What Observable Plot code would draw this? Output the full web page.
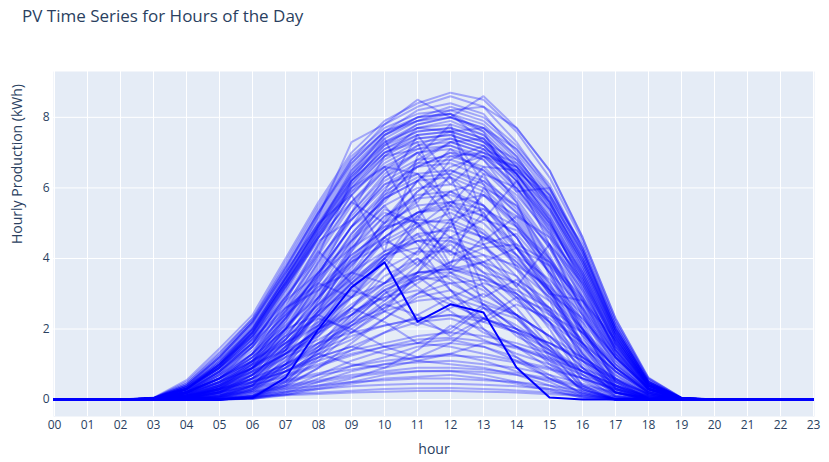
<!DOCTYPE html>
<html>
<head>
<meta charset="utf-8">
<script src="https://cdn.jsdelivr.net/npm/d3@7"></script>
<script src="https://cdn.jsdelivr.net/npm/@observablehq/plot@0.6"></script>
<style>
  html, body { margin: 0; padding: 0; background: #fff; }
  #wrap { position: relative; width: 829px; height: 462px; font-family: "Open Sans", sans-serif; }
  #title { position: absolute; left: 22px; top: 4px; font-size: 17px; color: #2a3f5f; white-space: nowrap; }
</style>
</head>
<body>
<div id="wrap"><div id="title">PV Time Series for Hours of the Day</div></div>
<script>
const hours = ["00","01","02","03","04","05","06","07","08","09","10","11","12","13","14","15","16","17","18","19","20","21","22","23"];
const yTicks = [0, 2, 4, 6, 8];

// Daily PV profiles (kWh per hour)
const dayProfiles = [
  [0,0,0,.05,.55,1.45,2.4,4.0,5.6,7.0,7.9,8.4,8.7,8.5,7.6,6.3,4.5,2.2,.6,.05,0,0,0,0],
  [0,0,0,.05,.45,1.3,2.3,3.8,5.4,6.8,7.8,8.3,8.6,8.3,7.3,6.0,4.3,2.1,.55,.04,0,0,0,0],
  [0,0,0,.04,.4,1.2,2.2,3.7,5.3,6.7,7.6,8.2,8.4,8.1,7.0,5.8,4.1,2.0,.5,.04,0,0,0,0],
  [0,0,0,.04,.35,1.1,2.1,3.6,5.2,6.6,7.5,8.0,8.1,7.8,6.9,5.6,3.9,1.9,.45,.03,0,0,0,0],
  [0,0,0,.03,.3,1.0,2.0,3.5,5.1,6.5,7.4,7.9,8.0,7.7,6.8,5.5,3.8,1.8,.4,.03,0,0,0,0],
  [0,0,0,.03,.3,1.0,1.9,3.4,5.0,6.4,7.3,7.7,7.8,7.5,6.6,5.4,3.7,1.7,.35,.03,0,0,0,0],
  [0,0,0,.03,.25,.9,1.8,3.3,4.9,6.3,7.2,7.6,7.7,7.4,6.5,5.3,3.6,1.6,.3,.02,0,0,0,0],
  [0,0,0,.02,.2,.8,1.7,3.2,4.8,6.2,7.1,7.5,7.6,7.3,6.4,5.2,3.5,1.5,.3,.02,0,0,0,0],
  [0,0,0,.02,.2,.8,1.6,3.1,4.7,6.1,7.0,7.4,7.5,7.2,6.3,5.0,3.4,1.4,.25,.02,0,0,0,0],
  [0,0,0,.03,.3,1.0,2.0,3.5,5.2,7.3,7.8,8.5,8.0,8.6,7.7,6.5,4.6,2.3,.6,.05,0,0,0,0],
  [0,0,0,0,.1,.5,1.3,2.8,4.4,5.8,6.8,7.3,7.4,7.1,6.2,4.9,3.1,1.2,.15,.01,0,0,0,0],
  [0,0,0,0,.05,.4,1.1,2.5,4.1,5.5,6.5,7.0,7.1,6.8,5.9,4.6,2.8,1.0,.1,0,0,0,0,0],
  [0,0,0,0,.03,.3,1.0,2.3,3.8,5.2,6.2,6.7,6.8,6.5,5.6,4.3,2.5,.8,.05,0,0,0,0,0],
  [0,0,0,0,0,.2,.8,2.0,3.5,4.9,5.9,6.4,6.5,6.2,5.3,4.0,2.2,.6,.02,0,0,0,0,0],
  [0,0,0,0,0,.1,.6,1.7,3.1,4.5,5.5,6.0,6.1,5.8,4.9,3.6,1.8,.4,0,0,0,0,0,0],
  [0,0,0,0,0,0,.3,1.2,2.5,3.8,4.8,5.3,5.4,5.0,4.1,2.8,1.1,.1,0,0,0,0,0,0],
  [0,0,0,0,0,0,.2,.9,2.1,3.3,4.2,4.7,4.8,4.4,3.5,2.2,.7,.05,0,0,0,0,0,0],
  [0,0,0,0,0,0,.1,.7,1.8,2.9,3.7,4.2,4.2,3.8,2.9,1.7,.4,0,0,0,0,0,0,0],
  [0,0,0,0,0,0,.05,.5,1.4,2.4,3.2,3.6,3.6,3.2,2.4,1.2,.2,0,0,0,0,0,0,0],
  [0,0,0,0,0,.05,.4,1.4,2.8,4.2,5.2,5.8,5.9,5.5,4.6,3.2,1.5,.3,0,0,0,0,0,0],
  [0,0,0,.04,.4,1.2,2.2,3.6,5.0,5.8,4.2,6.9,7.8,5.1,6.2,4.8,3.0,1.5,.4,.03,0,0,0,0],
  [0,0,0,.03,.3,1.0,1.8,2.9,4.1,6.2,7.4,5.5,3.8,6.0,5.5,4.0,2.6,1.2,.3,.02,0,0,0,0],
  [0,0,0,.03,.25,.8,1.5,2.4,3.6,4.5,5.9,7.5,6.3,4.4,3.2,4.4,3.3,1.6,.4,.03,0,0,0,0],
  [0,0,0,.02,.2,.7,1.3,2.1,2.9,3.8,4.9,5.6,6.8,7.2,6.4,5.1,3.2,1.4,.3,.02,0,0,0,0],
  [0,0,0,.03,.35,1.1,2.0,3.3,4.8,6.0,6.6,4.9,4.2,5.3,3.7,2.4,1.9,.9,.2,.02,0,0,0,0],
  [0,0,0,.02,.2,.6,1.1,1.9,2.7,3.4,4.1,4.6,4.9,4.6,4.0,3.1,2.0,.9,.2,.01,0,0,0,0],
  [0,0,0,.02,.15,.5,.9,1.6,2.2,2.9,3.3,3.9,4.4,3.6,2.8,2.2,1.5,.7,.15,.01,0,0,0,0],
  [0,0,0,.02,.2,.5,1.0,1.4,2.5,4.2,5.7,6.6,7.0,6.9,6.1,5.0,3.6,1.8,.45,.03,0,0,0,0],
  [0,0,0,.03,.3,.9,1.9,3.4,4.9,6.2,7.0,7.3,5.2,2.6,1.8,1.3,.8,.4,.1,0,0,0,0,0],
  [0,0,0,.02,.15,.4,.8,1.3,1.8,2.6,3.7,5.1,6.4,7.1,6.7,5.6,4.0,2.0,.5,.03,0,0,0,0],
  [0,0,0,.03,.3,.9,1.7,2.6,3.1,3.9,4.6,3.8,4.9,5.8,5.2,3.9,2.4,1.0,.25,.02,0,0,0,0],
  [0,0,0,.02,.2,.6,1.2,2.2,3.5,5.3,6.9,7.7,7.6,6.1,4.3,3.0,2.8,1.7,.45,.03,0,0,0,0],
  [0,0,0,.02,.25,.8,1.6,2.9,4.2,3.3,2.5,3.6,5.0,6.4,6.0,4.9,3.5,1.7,.4,.03,0,0,0,0],
  [0,0,0,0,.05,.3,.8,1.6,2.5,3.1,2.8,3.6,4.5,3.9,3.0,2.2,1.2,.4,.02,0,0,0,0,0],
  [0,0,0,0,.04,.25,.7,1.3,2.0,2.6,3.3,4.0,3.4,2.7,2.0,1.4,.7,.2,0,0,0,0,0,0],
  [0,0,0,0,.03,.2,.6,1.4,2.8,4.3,5.4,5.0,3.7,4.6,4.3,3.1,1.6,.4,.01,0,0,0,0,0],
  [0,0,0,0,.02,.15,.5,1.0,1.6,2.1,2.5,2.8,2.9,2.6,2.1,1.5,.8,.2,0,0,0,0,0,0],
  [0,0,0,0,.05,.35,1.0,2.1,3.4,4.7,5.7,6.2,5.1,3.2,2.4,1.8,.9,.2,0,0,0,0,0,0],
  [0,0,0,0,0,.1,.4,1.0,1.9,3.0,4.0,4.9,5.6,5.8,5.0,3.7,1.9,.5,.02,0,0,0,0,0],
  [0,0,0,0,0,.1,.4,1.1,2.0,2.4,3.1,2.2,1.9,2.6,2.3,1.5,.6,.1,0,0,0,0,0,0],
  [0,0,0,0,0,0,.1,.4,.9,1.4,1.9,2.2,2.3,2.0,1.5,.9,.3,0,0,0,0,0,0,0],
  [0,0,0,0,0,0,.05,.3,.7,1.1,1.4,1.6,1.7,1.5,1.1,.6,.2,0,0,0,0,0,0,0],
  [0,0,0,0,0,0,.05,.4,1.2,2.1,2.7,2.4,1.8,2.3,1.9,1.0,.3,0,0,0,0,0,0,0],
  [0,0,0,0,0,0,.03,.2,.5,.8,1.0,1.2,1.3,1.1,.8,.5,.1,0,0,0,0,0,0,0],
  [0,0,0,0,0,0,.02,.15,.35,.5,.7,.8,.8,.7,.5,.3,.05,0,0,0,0,0,0,0],
  [0,0,0,0,0,0,.1,.6,1.5,2.6,3.5,4.0,3.1,2.0,1.2,.6,.15,0,0,0,0,0,0,0],
  [0,0,0,.01,.1,.3,.5,.8,1.1,1.4,1.6,1.8,1.9,1.8,1.6,1.3,.9,.5,.15,.01,0,0,0,0],
  [0,0,0,.01,.08,.2,.35,.55,.75,.95,1.1,1.2,1.25,1.2,1.05,.85,.6,.3,.1,.01,0,0,0,0],
  [0,0,0,.01,.06,.15,.25,.4,.55,.7,.8,.9,.9,.85,.75,.6,.4,.2,.05,0,0,0,0,0],
  [0,0,0,0,.04,.1,.2,.3,.4,.5,.55,.6,.6,.55,.5,.4,.25,.1,.02,0,0,0,0,0],
  [0,0,0,0,.02,.06,.1,.15,.2,.25,.3,.32,.33,.3,.26,.2,.12,.05,0,0,0,0,0,0],
  [0,0,0,.01,.1,.35,.7,1.2,1.9,2.6,2.2,1.6,2.0,2.7,2.4,1.8,1.2,.6,.15,.01,0,0,0,0],
  [0,0,0,.01,.12,.4,.9,1.6,2.4,3.3,4.0,3.2,2.5,1.9,1.5,1.1,.7,.35,.08,0,0,0,0,0],
  [0,0,0,.01,.08,.25,.5,.9,1.5,2.2,3.0,3.8,4.6,5.1,4.8,3.9,2.7,1.3,.3,.02,0,0,0,0],
  [0,0,0,0,.05,.2,.45,.8,1.3,1.0,.9,1.4,2.1,1.7,1.3,1.0,.6,.25,.05,0,0,0,0,0],
  [0,0,0,.01,.15,.5,1.1,2.0,3.0,4.0,4.6,5.3,5.9,6.2,5.5,4.3,2.9,1.4,.35,.02,0,0,0,0],
  [0,0,0,.02,.25,.75,1.5,2.7,4.0,5.1,6.1,6.4,5.7,4.5,5.2,4.6,3.4,1.7,.4,.03,0,0,0,0],
  [0,0,0,.02,.2,.6,1.3,2.3,3.6,4.9,5.6,6.7,7.3,7.0,6.5,5.7,4.2,2.1,.5,.04,0,0,0,0],
  [0,0,0,.02,.3,.95,1.85,3.2,4.6,5.9,6.9,7.1,7.4,7.1,6.2,5.1,3.5,1.6,.35,.02,0,0,0,0],
  [0,0,0,.03,.35,1.05,2.05,3.45,4.95,6.35,7.3,7.8,8.0,7.6,5.9,6.0,4.2,2.0,.5,.04,0,0,0,0],
  [0,0,0,.04,.4,1.2,2.2,3.7,5.3,6.8,7.6,7.9,8.2,8.3,7.7,6.5,4.6,2.3,.62,.05,0,0,0,0],
  [0,0,0,.03,.3,.95,1.9,3.3,4.6,5.6,6.5,7.2,7.6,7.7,7.1,6.0,4.3,2.1,.5,.04,0,0,0,0],
  [0,0,0,0,.08,.4,1.1,2.3,3.6,4.9,5.8,6.3,6.4,6.0,5.1,3.8,2.1,.6,.03,0,0,0,0,0],
  [0,0,0,0,.06,.35,.9,2.0,3.2,4.1,4.8,5.7,6.3,5.5,4.3,3.3,2.0,.5,.02,0,0,0,0,0],
  [0,0,0,0,.02,.2,.7,1.5,2.1,3.4,4.5,4.1,5.1,5.4,4.6,3.1,1.5,.3,0,0,0,0,0,0],
  [0,0,0,0,0,.05,.3,1.0,2.2,3.5,4.6,5.3,5.5,5.2,4.4,3.1,1.4,.2,0,0,0,0,0,0],
  [0,0,0,0,0,.05,.25,.8,1.3,1.7,2.3,3.0,3.6,3.9,3.5,2.6,1.2,.2,0,0,0,0,0,0],
  [0,0,0,.01,.1,.4,.9,1.7,2.7,3.9,5.0,5.9,6.6,6.9,6.4,5.4,3.9,1.9,.45,.03,0,0,0,0],
  [0,0,0,.02,.2,.7,1.5,2.6,3.3,2.9,3.9,4.7,3.6,2.9,3.4,2.8,1.9,.9,.25,.02,0,0,0,0],
  [0,0,0,.01,.15,.5,1.0,1.8,2.3,2.0,1.5,1.2,1.6,2.3,2.9,2.5,1.7,.8,.2,.01,0,0,0,0],
  [0,0,0,.04,.5,1.35,2.3,3.9,5.5,6.9,7.7,8.1,8.2,7.9,7.1,5.9,4.2,2.0,.5,.04,0,0,0,0],
  [0,0,0,.03,.4,1.15,2.15,3.6,5.0,6.4,7.5,7.9,8.1,7.6,6.7,5.7,4.0,1.9,.45,.03,0,0,0,0],
  [0,0,0,.03,.35,1.05,2.0,3.45,4.9,6.3,7.25,7.7,7.9,7.5,6.6,5.5,3.8,1.8,.4,.03,0,0,0,0],
  [0,0,0,.03,.3,.95,1.9,3.3,4.8,6.2,7.1,7.6,7.7,7.4,6.4,5.2,3.6,1.7,.4,.03,0,0,0,0],
  [0,0,0,.02,.25,.85,1.75,3.1,4.6,6.0,6.9,7.4,7.5,7.2,6.2,5.0,3.4,1.6,.35,.02,0,0,0,0],
  [0,0,0,.02,.2,.75,1.6,2.9,4.4,5.8,6.7,7.2,7.3,7.0,6.0,4.8,3.2,1.4,.3,.02,0,0,0,0],
  [0,0,0,.04,.45,1.25,2.25,3.75,5.3,6.7,7.6,8.0,8.3,8.0,7.2,6.1,4.3,2.0,.5,.04,0,0,0,0],
  [0,0,0,.03,.35,1.0,1.95,3.4,4.9,6.5,7.5,8.0,8.1,7.3,6.8,5.8,4.1,1.9,.45,.03,0,0,0,0],
  [0,0,0,.02,.3,.9,1.8,3.2,4.7,6.1,7.2,7.8,8.0,7.7,6.9,5.6,3.9,1.8,.4,.03,0,0,0,0],
  [0,0,0,.01,.15,.6,1.5,3.0,4.6,6.0,7.0,7.5,7.6,7.3,6.4,5.1,3.3,1.3,.2,.01,0,0,0,0],
  [0,0,0,0,.08,.45,1.2,2.6,4.2,5.6,6.6,7.1,7.2,6.9,6.0,4.7,2.9,1.1,.12,0,0,0,0,0],
  [0,0,0,0,.04,.35,1.05,2.4,3.9,5.3,6.3,6.8,6.9,6.6,5.7,4.4,2.6,.9,.08,0,0,0,0,0],
  [0,0,0,0,.02,.25,.9,2.2,3.7,5.1,6.1,6.6,6.7,6.3,5.4,4.1,2.4,.7,.04,0,0,0,0,0],
  [0,0,0,0,0,.15,.7,1.9,3.3,4.7,5.7,6.2,6.3,5.9,5.0,3.8,2.0,.5,.02,0,0,0,0,0],
  [0,0,0,0,0,.08,.5,1.5,2.9,4.3,5.2,5.7,5.8,5.5,4.6,3.3,1.6,.35,0,0,0,0,0,0],
  [0,0,0,0,0,.03,.4,1.3,2.6,4.0,5.0,5.5,5.6,5.2,4.3,3.0,1.3,.2,0,0,0,0,0,0],
  [0,0,0,0,0,0,.25,1.0,2.3,3.6,4.5,5.0,5.1,4.7,3.8,2.5,.9,.08,0,0,0,0,0,0],
  [0,0,0,0,0,0,.15,.8,1.9,3.1,4.0,4.5,4.5,4.1,3.2,2.0,.55,.02,0,0,0,0,0,0],
  [0,0,0,.03,.3,.9,1.7,2.8,3.6,4.9,6.3,7.0,6.1,6.9,6.6,5.4,3.7,1.8,.45,.03,0,0,0,0],
  [0,0,0,.02,.25,.8,1.6,2.8,4.3,5.6,5.0,6.2,7.1,6.4,4.9,3.6,2.6,1.3,.3,.02,0,0,0,0],
  [0,0,0,.03,.3,.95,1.8,3.2,4.5,5.1,6.0,6.6,7.0,6.5,5.8,4.7,3.3,1.6,.4,.03,0,0,0,0],
  [0,0,0,.02,.2,.6,1.1,1.7,2.6,3.6,4.8,5.9,6.5,6.1,5.3,4.4,3.1,1.5,.35,.02,0,0,0,0],
  [0,0,0,.02,.2,.6,1.2,2.0,3.1,4.1,4.8,5.3,5.6,5.4,4.9,4.0,2.8,1.3,.3,.02,0,0,0,0],
  [0,0,0,.03,.3,.9,1.6,2.5,3.5,4.3,4.9,5.1,5.0,4.6,3.9,3.1,2.2,1.1,.25,.02,0,0,0,0],
  [0,0,0,.02,.15,.45,.9,1.5,2.4,3.3,4.1,4.3,3.7,3.9,4.3,3.8,2.8,1.4,.35,.02,0,0,0,0],
  [0,0,0,.01,.1,.3,.6,1.0,1.5,2.1,2.8,3.5,3.9,4.1,3.8,3.2,2.3,1.2,.3,.02,0,0,0,0],
  [0,0,0,.02,.2,.65,1.3,2.3,3.4,4.6,5.5,4.4,3.1,2.3,1.9,1.6,1.2,.6,.15,.01,0,0,0,0],
  [0,0,0,.01,.12,.4,.8,1.3,1.7,2.2,2.6,3.0,3.3,3.4,3.1,2.6,1.9,.9,.2,.01,0,0,0,0],
  [0,0,0,.02,.2,.6,1.2,2.0,2.4,1.9,2.6,3.5,2.8,2.2,2.7,2.3,1.6,.8,.2,.01,0,0,0,0],
  [0,0,0,.02,.18,.55,1.05,1.8,2.9,4.4,5.8,6.8,7.3,7.4,6.3,4.4,2.5,1.2,.3,.02,0,0,0,0],
  [0,0,0,.03,.35,1.0,1.9,3.3,4.7,5.9,6.6,6.4,5.5,4.7,4.1,3.4,2.4,1.2,.3,.02,0,0,0,0],
  [0,0,0,.02,.2,.6,1.1,1.6,2.1,2.9,4.0,5.2,5.9,5.3,4.1,3.0,2.3,1.2,.3,.02,0,0,0,0],
  [0,0,0,.02,.2,.6,1.3,2.5,3.9,5.3,6.4,7.0,7.2,6.8,5.6,3.5,1.8,.9,.2,.01,0,0,0,0],
  [0,0,0,.01,.1,.3,.7,1.4,2.4,3.7,5.1,6.2,6.9,7.0,6.6,5.8,4.4,2.2,.55,.04,0,0,0,0],
  [0,0,0,.02,.2,.7,1.4,2.4,3.2,3.6,3.3,4.2,5.5,6.6,6.5,5.6,4.0,1.9,.45,.03,0,0,0,0],
  [0,0,0,0,.06,.3,.85,1.8,2.9,3.9,4.4,4.9,5.3,4.8,3.9,2.9,1.6,.45,.02,0,0,0,0,0],
  [0,0,0,0,.04,.25,.7,1.5,2.5,3.5,4.6,5.2,4.6,3.8,3.3,2.5,1.3,.35,.01,0,0,0,0,0],
  [0,0,0,0,.02,.2,.6,1.3,2.0,2.5,2.9,3.4,3.8,3.5,2.9,2.1,1.1,.3,0,0,0,0,0,0],
  [0,0,0,0,0,.1,.45,1.1,2.1,3.2,4.1,4.5,4.2,3.6,3.3,2.6,1.3,.3,0,0,0,0,0,0],
  [0,0,0,0,.05,.3,.9,2.0,3.3,4.5,5.3,5.0,4.1,4.4,4.7,3.6,2.0,.55,.02,0,0,0,0,0],
  [0,0,0,0,0,.08,.35,.9,1.6,2.4,3.1,3.5,3.3,2.8,2.4,1.8,.9,.2,0,0,0,0,0,0],
  [0,0,0,0,0,.05,.3,.8,1.2,1.5,1.9,2.4,2.9,3.3,3.0,2.2,1.0,.2,0,0,0,0,0,0],
  [0,0,0,0,.03,.2,.6,1.2,1.6,1.9,2.1,2.3,2.4,2.2,1.9,1.4,.8,.25,0,0,0,0,0,0],
  [0,0,0,0,0,0,.08,.5,1.3,2.2,3.0,3.4,3.5,3.1,2.3,1.3,.35,0,0,0,0,0,0,0],
  [0,0,0,0,0,0,.05,.35,.9,1.6,2.3,2.9,3.1,2.7,2.0,1.1,.25,0,0,0,0,0,0,0],
  [0,0,0,0,0,0,.04,.25,.6,.95,1.2,1.5,1.6,1.5,1.2,.7,.15,0,0,0,0,0,0,0],
  [0,0,0,0,0,0,.02,.12,.3,.45,.6,.65,.7,.6,.45,.25,.05,0,0,0,0,0,0,0],
  [0,0,0,0,0,0,.08,.45,1.1,1.9,2.5,2.1,2.6,3.0,2.4,1.4,.3,0,0,0,0,0,0,0],
  [0,0,0,0,0,0,.1,.55,1.4,2.3,3.1,3.6,3.7,3.4,2.6,1.5,.4,0,0,0,0,0,0,0],
  [0,0,0,0,0,0,.03,.2,.4,.6,.9,1.1,1.0,.9,.7,.4,.08,0,0,0,0,0,0,0],
  [0,0,0,.01,.08,.22,.4,.65,.95,1.25,1.5,1.7,1.75,1.65,1.45,1.15,.8,.4,.1,.01,0,0,0,0],
  [0,0,0,0,.05,.15,.3,.5,.7,.85,1.0,1.05,1.1,1.0,.9,.7,.45,.2,.05,0,0,0,0,0],
  [0,0,0,0,.03,.08,.15,.22,.3,.38,.42,.45,.45,.42,.38,.3,.18,.08,.01,0,0,0,0,0],
  [0,0,0,.01,.1,.3,.6,1.0,1.4,1.8,2.1,2.3,2.4,2.3,2.0,1.6,1.1,.55,.15,.01,0,0,0,0],
  [0,0,0,.01,.09,.25,.5,.8,1.2,1.5,1.3,1.1,1.3,1.6,1.5,1.2,.8,.4,.1,.01,0,0,0,0],
  [0,0,0,0,.04,.12,.22,.35,.5,.65,.75,.8,.82,.78,.7,.55,.35,.15,.03,0,0,0,0,0],
  [0,0,0,.01,.07,.2,.4,.7,1.0,1.3,1.5,1.6,1.5,1.3,1.1,.9,.6,.3,.08,0,0,0,0,0],
  [0,0,0,0,.02,.05,.08,.12,.16,.2,.22,.24,.24,.22,.2,.15,.1,.04,0,0,0,0,0,0],
  [0,0,0,.01,.12,.35,.75,1.3,2.0,2.7,3.3,3.6,3.7,3.5,3.0,2.4,1.6,.8,.2,.01,0,0,0,0],
  [0,0,0,.01,.15,.45,.95,1.7,2.7,3.6,4.2,4.5,4.6,4.3,3.7,2.9,2.0,1.0,.25,.02,0,0,0,0],
  [0,0,0,.02,.18,.5,.9,1.4,1.9,2.4,2.9,3.1,2.7,2.3,2.0,1.6,1.1,.55,.15,.01,0,0,0,0],
  [0,0,0,.01,.1,.3,.55,.9,1.4,2.0,2.7,3.3,3.9,4.3,4.4,3.9,2.9,1.5,.4,.03,0,0,0,0]
];

// The one day drawn opaque
const highlightDay = [0,0,0,0,0,0,.05,.62,2.0,3.18,3.89,2.21,2.7,2.47,.91,.06,0,0,0,0,0,0,0,0];

const rows = dayProfiles.flatMap((vals, d) => vals.map((v, i) => ({day: d, hour: hours[i], value: v})));
const hiRows = highlightDay.map((v, i) => ({hour: hours[i], value: v}));

const ink = "#2a3f5f";
const chart = Plot.plot({
  width: 829,
  height: 462,
  marginLeft: 53,
  marginRight: 15,
  marginTop: 71,
  marginBottom: 46,
  style: {fontFamily: "'Open Sans', sans-serif", fontSize: "12px", color: ink, background: "transparent"},
  x: {type: "point", domain: hours, padding: 0},
  y: {domain: [-0.48, 9.30]},
  marks: [
    Plot.frame({fill: "#e5ecf6", stroke: null}),
    Plot.gridX(hours, {stroke: "#fff", strokeOpacity: 1, strokeWidth: 1}),
    Plot.gridY(yTicks, {stroke: "#fff", strokeOpacity: 1, strokeWidth: 1}),
    Plot.axisX(hours, {tickSize: 0, tickPadding: 4, label: null, fontSize: 12, fill: ink}),
    Plot.axisY(yTicks, {tickSize: 0, tickPadding: 4, label: null, fontSize: 12, fill: ink}),
    Plot.line(rows, {x: "hour", y: "value", z: "day", stroke: "#0000ff", strokeOpacity: 0.3, strokeWidth: 2, clip: true}),
    Plot.line(hiRows, {x: "hour", y: "value", stroke: "#0000ff", strokeWidth: 2, clip: true}),
    Plot.text(["hour"], {frameAnchor: "bottom", dy: 37, fontSize: 14, fill: ink}),
    Plot.text(["Hourly Production (kWh)"], {frameAnchor: "left", dx: -36, rotate: -90, fontSize: 14, fill: ink})
  ]
});
document.getElementById("wrap").appendChild(chart);
chart.style.position = "absolute";
chart.style.left = "0";
chart.style.top = "0";
</script>
</body>
</html>
